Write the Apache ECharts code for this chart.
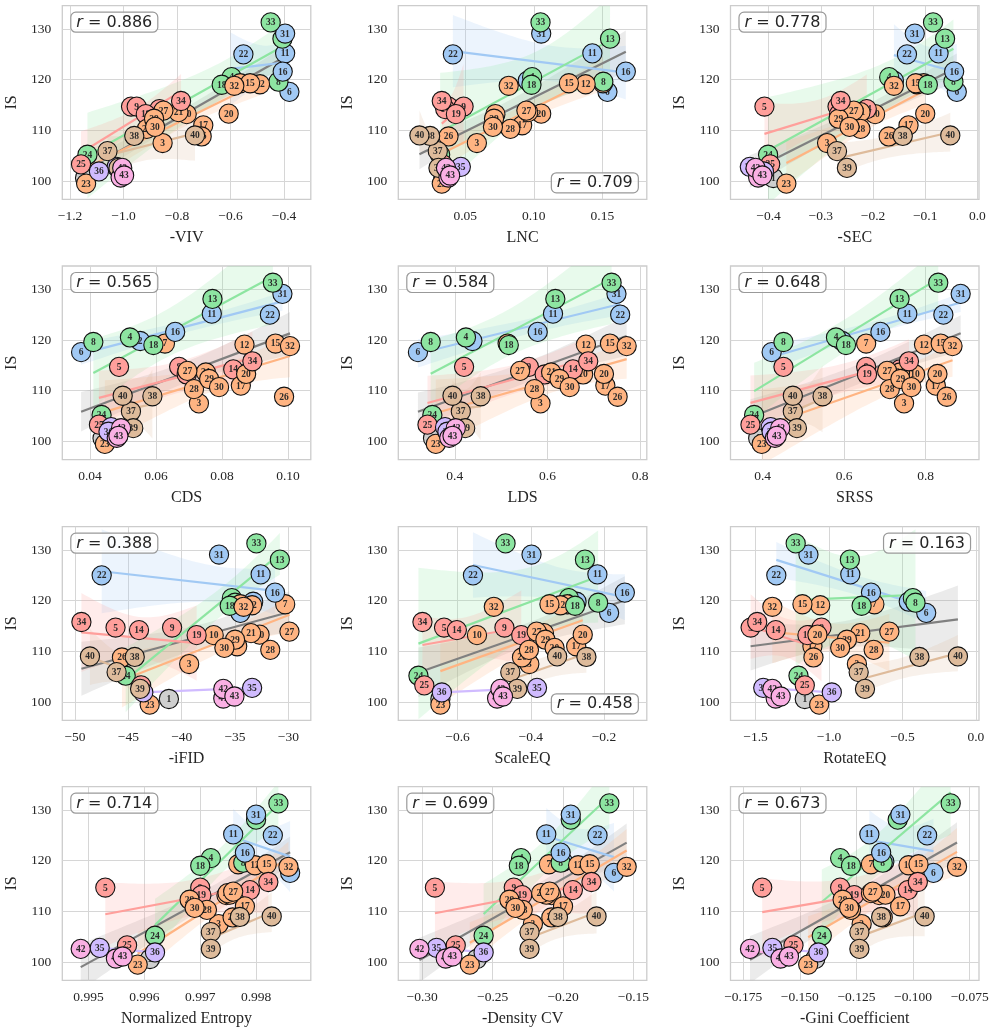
<!DOCTYPE html>
<html>
<head>
<meta charset="utf-8">
<script src="https://cdn.jsdelivr.net/npm/echarts@6/dist/echarts.min.js"></script>
<style>
html, body { margin: 0; background: #fff; }
#chart { width: 993px; height: 1034px; }
</style>
</head>
<body>
<div id="chart"></div>
<script>
// IS score of each model (index = id - 1)
var isScore = [100.6, 119.8, 107.5, 120.5, 114.7, 117.6, 119.3, 119.6, 114.7, 113.2,
  125.2, 119.1, 128.1, 114.2, 119.3, 121.6, 111.0, 119.0, 113.2, 113.3,
  113.6, 125.0, 99.5, 105.2, 103.3, 108.8, 113.9, 110.3, 112.3, 110.7,
  129.1, 118.8, 131.3, 115.8, 102.8, 101.9, 105.9, 108.9, 102.6, 109.0,
  100.7, 102.6, 101.1];

// colour group of each model
var groupOf = [7, 0, 1, 2, 3, 0, 1, 2, 3, 1,
  0, 1, 2, 3, 1, 0, 1, 2, 3, 1,
  1, 0, 1, 2, 3, 1, 1, 1, 1, 1,
  0, 1, 2, 3, 4, 4, 5, 5, 5, 5,
  6, 6, 6];

// metric values per model
var viv = [-1.144, -0.600, -0.854, -0.596, -0.972, -0.380, -0.564, -0.421, -0.951, -0.764,
  -0.396, -0.490, -0.406, -0.866, -0.527, -0.405, -0.702, -0.633, -0.917, -0.607,
  -0.795, -0.552, -1.140, -1.135, -1.159, -0.708, -0.851, -0.913, -0.886, -0.882,
  -0.396, -0.586, -0.450, -0.785, -1.026, -1.092, -1.060, -0.960, -1.019, -0.733,
  -1.011, -1.005, -0.998];
var lnc = [0.034, 0.0956, 0.0585, 0.0988, 0.0378, 0.1537, 0.1505, 0.1507, 0.0488, 0.072,
  0.1427, 0.1378, 0.1556, 0.0354, 0.1256, 0.1671, 0.0915, 0.0983, 0.0432, 0.1054,
  0.0959, 0.041, 0.0329, 0.0317, 0.0337, 0.0378, 0.0946, 0.0829, 0.071, 0.0702,
  0.1054, 0.0817, 0.1049, 0.0329, 0.0468, 0.0366, 0.030, 0.0244, 0.0305, 0.0166,
  0.0378, 0.036, 0.039];
var sec = [-0.391, -0.160, -0.288, -0.169, -0.408, -0.0395, -0.103, -0.046, -0.268, -0.196,
  -0.0745, -0.116, -0.062, -0.212, -0.118, -0.0446, -0.132, -0.095, -0.265, -0.100,
  -0.224, -0.135, -0.366, -0.401, -0.397, -0.170, -0.237, -0.224, -0.266, -0.245,
  -0.120, -0.160, -0.085, -0.262, -0.436, -0.409, -0.269, -0.143, -0.250, -0.052,
  -0.420, -0.425, -0.412];
var cds = [0.0438, 0.0552, 0.0730, 0.0521, 0.0488, 0.0373, 0.0627, 0.0410, 0.0670, 0.0865,
  0.0769, 0.0868, 0.0771, 0.0834, 0.0962, 0.0658, 0.0857, 0.0592, 0.0693, 0.0873,
  0.0751, 0.0945, 0.0445, 0.0435, 0.0427, 0.0988, 0.0695, 0.0715, 0.0761, 0.0791,
  0.0983, 0.1006, 0.0954, 0.0892, 0.0464, 0.0456, 0.0524, 0.0589, 0.0531, 0.0499,
  0.0481, 0.0494, 0.0486];
var lds = [0.353, 0.438, 0.585, 0.424, 0.420, 0.3204, 0.514, 0.348, 0.560, 0.677,
  0.612, 0.683, 0.617, 0.655, 0.735, 0.579, 0.725, 0.5165, 0.594, 0.722,
  0.608, 0.757, 0.359, 0.3515, 0.341, 0.7515, 0.541, 0.572, 0.626, 0.648,
  0.749, 0.771, 0.7385, 0.688, 0.379, 0.384, 0.413, 0.456, 0.4224, 0.395,
  0.388, 0.402, 0.395];
var srss = [0.389, 0.595, 0.747, 0.580, 0.451, 0.422, 0.654, 0.451, 0.654, 0.774,
  0.755, 0.796, 0.736, 0.737, 0.837, 0.689, 0.825, 0.6045, 0.656, 0.829,
  0.737, 0.8435, 0.3975, 0.379, 0.370, 0.852, 0.7055, 0.712, 0.738, 0.765,
  0.886, 0.866, 0.831, 0.759, 0.4197, 0.422, 0.474, 0.547, 0.484, 0.474,
  0.430, 0.443, 0.4345];
var ifid = [-41.2, -33.3, -39.3, -35.3, -46.2, -34.5, -30.3, -35.0, -40.9, -37.0,
  -32.6, -33.4, -30.8, -44.0, -34.5, -31.25, -34.8, -35.5, -38.6, -32.7,
  -33.5, -47.5, -43.0, -45.25, -43.8, -45.6, -29.9, -31.7, -35.0, -36.0,
  -36.5, -34.2, -33.0, -49.4, -33.4, -43.6, -46.1, -44.4, -43.9, -48.6,
  -36.1, -36.1, -35.06];
var scaleEq = [-0.647, -0.275, -0.404, -0.296, -0.637, -0.186, -0.300, -0.216, -0.472, -0.547,
  -0.218, -0.319, -0.252, -0.602, -0.349, -0.143, -0.276, -0.279, -0.426, -0.258,
  -0.364, -0.558, -0.647, -0.707, -0.691, -0.424, -0.384, -0.405, -0.360, -0.335,
  -0.398, -0.501, -0.469, -0.696, -0.383, -0.643, -0.456, -0.248, -0.437, -0.328,
  -0.492, -0.483, -0.476];
var rotateEq = [-1.165, -0.457, -0.810, -0.429, -1.534, -0.338, -0.691, -0.411, -1.051, -1.136,
  -0.855, -1.060, -0.858, -1.363, -1.181, -0.714, -1.113, -0.778, -1.147, -1.079,
  -0.787, -1.359, -1.067, -1.208, -1.165, -1.106, -0.589, -0.696, -0.878, -0.924,
  -1.14, -1.386, -1.227, -1.489, -1.448, -0.981, -0.798, -0.384, -0.755, -0.122,
  -1.363, -1.386, -1.329];
var normEntropy = [0.99610, 0.99780, 0.99733, 0.99719, 0.99530, 0.99861, 0.99768, 0.99777, 0.99700, 0.99747,
  0.99759, 0.99798, 0.99800, 0.99789, 0.99819, 0.99780, 0.99780, 0.99700, 0.99702, 0.99753,
  0.99749, 0.99830, 0.99588, 0.99619, 0.99569, 0.99758, 0.99759, 0.99712, 0.99681, 0.99690,
  0.99800, 0.99858, 0.99840, 0.99822, 0.99520, 0.99619, 0.99719, 0.99771, 0.99719, 0.99828,
  0.99549, 0.99486, 0.99561];
var densityCv = [-0.2612, -0.200, -0.2214, -0.2298, -0.291, -0.1638, -0.210, -0.2017, -0.235, -0.2083,
  -0.2119, -0.1893, -0.1945, -0.193, -0.181, -0.2017, -0.200, -0.2314, -0.229, -0.2119,
  -0.2155, -0.1755, -0.2662, -0.2564, -0.2762, -0.2083, -0.2095, -0.2286, -0.2381, -0.2338,
  -0.1945, -0.1548, -0.1671, -0.1798, -0.2898, -0.2564, -0.2238, -0.2036, -0.2238, -0.1762,
  -0.2833, -0.302, -0.2786];
var gini = [-0.1432, -0.1127, -0.1227, -0.1322, -0.1666, -0.0910, -0.1186, -0.1134, -0.1322, -0.1149,
  -0.1193, -0.1020, -0.1068, -0.1023, -0.0976, -0.1141, -0.1057, -0.1274, -0.1260, -0.1122,
  -0.1186, -0.0938, -0.1463, -0.1403, -0.1528, -0.1134, -0.1178, -0.1274, -0.1311, -0.1282,
  -0.1056, -0.0806, -0.0834, -0.0979, -0.1621, -0.1418, -0.1237, -0.1141, -0.1237, -0.0949,
  -0.1585, -0.172, -0.1548];

var metricNames = ['-VIV', 'LNC', '-SEC', 'CDS', 'LDS', 'SRSS', '-iFID', 'ScaleEQ', 'RotateEQ',
  'Normalized Entropy', '-Density CV', '-Gini Coefficient'];
var rValues = ['0.886', '0.709', '0.778', '0.565', '0.584', '0.648', '0.388', '0.458', '0.163',
  '0.714', '0.699', '0.673'];
var rCorner = ['tl', 'br', 'tl', 'tl', 'tl', 'tl', 'tl', 'br', 'tr', 'tl', 'tl', 'tl'];

// tick labels
var xTicks = [
  [-1.2, -1.0, -0.8, -0.6, -0.4],
  [0.05, 0.10, 0.15],
  [-0.4, -0.3, -0.2, -0.1, 0.0],
  [0.04, 0.06, 0.08, 0.10],
  [0.4, 0.6, 0.8],
  [0.4, 0.6, 0.8],
  [-50, -45, -40, -35, -30],
  [-0.6, -0.4, -0.2],
  [-1.5, -1.0, -0.5, 0.0],
  [0.995, 0.996, 0.997, 0.998],
  [-0.30, -0.25, -0.20, -0.15],
  [-0.175, -0.150, -0.125, -0.100, -0.075]
];
var xDec = [1, 2, 1, 2, 1, 1, 0, 1, 1, 3, 2, 3];
var yTicks = [100, 110, 120, 130];

// axis ranges
var xMin = [-1.229, 0.0012, -0.473, 0.0316, 0.278, 0.321, -51.19, -0.762, -1.671, 0.99453, -0.317, -0.1806];
var xMax = [-0.30, 0.1824, 0.003, 0.1069, 0.8145, 0.931, -27.9, -0.083, 0.0216, 0.99898, -0.1405, -0.0709];

var metricValues = [viv, lnc, sec, cds, lds, srss, ifid, scaleEq, rotateEq, normEntropy, densityCv, gini];

var palette = ['#a1c9f4', '#ffb482', '#8de5a1', '#ff9f9b', '#d0bbff', '#debb9b', '#fab0e4', '#cfcfcf'];
var serif = 'Liberation Serif';
var textCol = '#262626';

var gridLefts = [62.3, 398.3, 730.5];
var gridTops = [5.7, 266, 526.7, 786.7];
var gridW = 248.5, gridH = 193.6;

function linFit(xs, ys) {
	var n = xs.length, mx = 0, my = 0;
	for (var i = 0; i < n; i++) { mx += xs[i]; my += ys[i]; }
	mx /= n; my /= n;
	var sxx = 0, sxy = 0;
	for (var i = 0; i < n; i++) {
		sxx += (xs[i] - mx) * (xs[i] - mx);
		sxy += (xs[i] - mx) * (ys[i] - my);
	}
	var b = sxy / sxx, a = my - b * mx, sse = 0;
	for (var i = 0; i < n; i++) {
		var e = ys[i] - a - b * xs[i];
		sse += e * e;
	}
	return { a: a, b: b, mx: mx, sxx: sxx, n: n, s: n > 2 ? Math.sqrt(sse / (n - 2)) : 0,
		x0: Math.min.apply(null, xs), x1: Math.max.apply(null, xs) };
}

function fmt(dec) {
	return function (v) {
		var s = Math.abs(v).toFixed(dec);
		return (v < 0 && Number(s) !== 0 ? '\u2212' : '') + s;
	};
}

var grids = [], xAxes = [], yAxes = [], titles = [];
var bandSeries = [], lineSeries = [], pointSeries = [];

function addFit(k, xs, ys, color, lineColor) {
	if (xs.length < 2) return;
	var f = linFit(xs, ys);
	if (f.n >= 3) {
		var band = [];
		for (var j = 0; j <= 40; j++) {
			var x = f.x0 + (f.x1 - f.x0) * j / 40;
			var yh = f.a + f.b * x;
			var se = f.s * Math.sqrt(1 / f.n + (x - f.mx) * (x - f.mx) / f.sxx);
			band.push([x, yh - 1.96 * se, yh + 1.96 * se]);
		}
		bandSeries.push({
			type: 'custom', xAxisIndex: k, yAxisIndex: k, z: 1, silent: true, clip: true,
			data: band,
			encode: { x: 0, y: [1, 2] },
			renderItem: (function (band, color) {
				return function (params, api) {
					if (params.dataIndex !== 0) return;
					var up = [], lo = [];
					band.forEach(function (b) {
						up.push(api.coord([b[0], b[2]]));
						lo.push(api.coord([b[0], b[1]]));
					});
					return { type: 'polygon', shape: { points: up.concat(lo.reverse()) },
						style: { fill: color, opacity: 0.2 } };
				};
			})(band, color)
		});
	}
	lineSeries.push({
		type: 'line', xAxisIndex: k, yAxisIndex: k, z: 2, silent: true,
		showSymbol: false, symbol: 'none',
		data: [[f.x0, f.a + f.b * f.x0], [f.x1, f.a + f.b * f.x1]],
		lineStyle: { color: lineColor, width: 2.2 }
	});
}

for (var k = 0; k < 12; k++) {
	var col = k % 3, row = Math.floor(k / 3);
	var L = gridLefts[col], T = gridTops[row];
	grids.push({ left: L, top: T, width: gridW, height: gridH, show: true,
		borderColor: '#cccccc', borderWidth: 1.3, backgroundColor: 'transparent' });

	xAxes.push({
		gridIndex: k, type: 'value', min: xMin[k], max: xMax[k],
		name: metricNames[k], nameLocation: 'middle', nameGap: 30,
		nameTextStyle: { fontFamily: serif, fontSize: 16, color: textCol },
		axisLine: { show: false },
		axisTick: { show: false, customValues: xTicks[k] },
		axisLabel: { customValues: xTicks[k], margin: 10,
			fontFamily: serif, fontSize: 13.5, color: textCol, formatter: fmt(xDec[k]) },
		splitLine: { lineStyle: { color: '#d6d6d6', width: 1 } }
	});
	yAxes.push({
		gridIndex: k, type: 'value', min: 96.4, max: 134.6,
		name: 'IS', nameLocation: 'middle', nameGap: 43,
		nameTextStyle: { fontFamily: serif, fontSize: 16, color: textCol },
		axisLine: { show: false },
		axisTick: { show: false, customValues: yTicks },
		axisLabel: { customValues: yTicks, margin: 11,
			fontFamily: serif, fontSize: 13.5, color: textCol, formatter: fmt(0) },
		splitLine: { lineStyle: { color: '#d6d6d6', width: 1 } }
	});

	var xs = metricValues[k];
	addFit(k, xs, isScore, '#999999', '#808080');
	for (var g = 0; g < 7; g++) {
		var gx = [], gy = [];
		for (var i = 0; i < xs.length; i++) {
			if (groupOf[i] === g) { gx.push(xs[i]); gy.push(isScore[i]); }
		}
		addFit(k, gx, gy, palette[g], palette[g]);
	}

	pointSeries.push({
		type: 'custom', xAxisIndex: k, yAxisIndex: k, z: 3, silent: true,
		data: xs.map(function (x, i) { return [x, isScore[i], i + 1, groupOf[i]]; }),
		renderItem: function (params, api) {
			var p = api.coord([api.value(0), api.value(1)]);
			return {
				type: 'group',
				children: [
					{ type: 'circle', shape: { cx: p[0], cy: p[1], r: 9.6 },
						style: { fill: palette[api.value(3)], stroke: '#111', lineWidth: 1.1 } },
					{ type: 'text', style: { x: p[0], y: p[1] + 0.5, text: String(api.value(2)),
						align: 'center', verticalAlign: 'middle',
						font: 'bold 9.5px "Liberation Serif"', fill: '#2a2a2a' } }
				]
			};
		}
	});

	var t = {
		text: '{i|r} = ' + rValues[k],
		textStyle: { fontFamily: 'DejaVu Sans', fontSize: 16, fontWeight: 'normal', color: textCol,
			rich: { i: { fontFamily: 'DejaVu Sans', fontStyle: 'italic', fontSize: 16, color: textCol } } },
		backgroundColor: 'rgba(255,255,255,0.8)', borderColor: '#999', borderWidth: 1.2,
		borderRadius: 5, padding: [3, 6, 2, 6]
	};
	if (rCorner[k] === 'tl') { t.left = L + 8; t.top = T + 6; }
	else if (rCorner[k] === 'tr') { t.right = 993 - (L + gridW) + 8; t.top = T + 6; }
	else { t.right = 993 - (L + gridW) + 8; t.bottom = 1034 - (T + gridH) + 6; }
	titles.push(t);
}

var chart = echarts.init(document.getElementById('chart'), null, { renderer: 'canvas' });
chart.setOption({
	animation: false,
	backgroundColor: '#ffffff',
	title: titles,
	grid: grids,
	xAxis: xAxes,
	yAxis: yAxes,
	series: bandSeries.concat(lineSeries, pointSeries)
});
</script>
</body>
</html>
